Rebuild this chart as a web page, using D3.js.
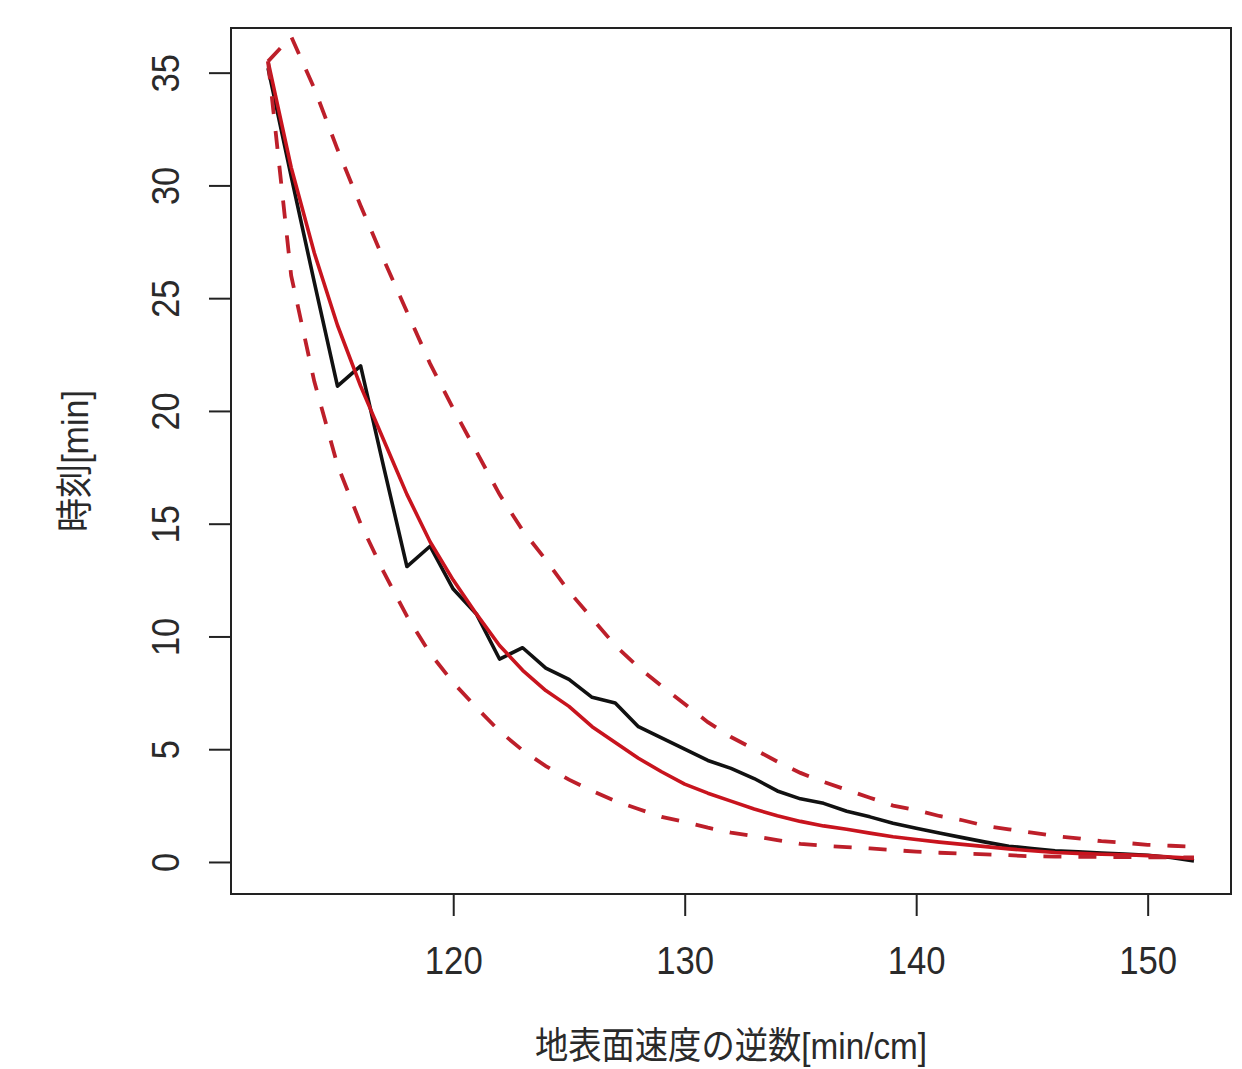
<!DOCTYPE html>
<html>
<head>
<meta charset="utf-8">
<script src="https://cdn.jsdelivr.net/npm/d3@7"></script>
<style>
body { margin: 0; background: #fff; }
</style>
</head>
<body>
<div id="chart"></div>
<script>
// inverse surface velocity [min/cm]
const speedInv = [112, 113, 114, 115, 116, 117, 118, 119, 120, 121, 122, 123, 124, 125, 126, 127, 128, 129, 130, 131,
    132, 133, 134, 135, 136, 137, 138, 139, 140, 141, 142, 143, 144, 145, 146, 147, 148, 149, 150, 151, 152];

// observed time [min]
const observed = [35.2, 30.4, 25.7, 21.1, 22.0, 17.5, 13.1, 14.0, 12.1, 11.0, 9.0, 9.5, 8.6, 8.1, 7.3, 7.05, 6.0, 5.5, 5.0, 4.5,
    4.15, 3.7, 3.15, 2.8, 2.6, 2.25, 2.0, 1.72, 1.5, 1.28, 1.08, 0.88, 0.7, 0.6, 0.5, 0.45, 0.4, 0.35, 0.3, 0.2, 0.05];

// fitted curve
const fitted = [35.5, 30.8, 27.0, 23.8, 21.1, 18.7, 16.3, 14.2, 12.5, 11.0, 9.6, 8.5, 7.6, 6.9, 6.0, 5.3, 4.6, 4.0, 3.45, 3.05,
    2.7, 2.35, 2.05, 1.8, 1.6, 1.45, 1.28, 1.12, 1.0, 0.88, 0.78, 0.68, 0.58, 0.5, 0.42, 0.38, 0.34, 0.32, 0.28, 0.22, 0.16];

// upper / lower bounds (dashed)
const upperBand = [35.5, 36.6, 34.3, 31.6, 29.1, 26.7, 24.4, 22.1, 20.1, 18.2, 16.3, 14.7, 13.4, 12.0, 10.8, 9.6, 8.64, 7.8, 7.0, 6.2,
    5.54, 5.0, 4.45, 3.95, 3.55, 3.2, 2.85, 2.5, 2.3, 2.04, 1.85, 1.6, 1.45, 1.3, 1.15, 1.05, 0.92, 0.85, 0.76, 0.72, 0.68];
const lowerBand = [35.5, 26.0, 21.3, 17.6, 15.0, 12.85, 10.9, 9.25, 7.95, 6.85, 5.8, 4.95, 4.25, 3.65, 3.15, 2.7, 2.35, 2.0, 1.78, 1.52,
    1.3, 1.14, 0.97, 0.8, 0.72, 0.66, 0.6, 0.53, 0.46, 0.41, 0.37, 0.34, 0.3, 0.25, 0.24, 0.23, 0.22, 0.22, 0.21, 0.21, 0.2];

const xTicks = [120, 130, 140, 150];
const yTicks = [0, 5, 10, 15, 20, 25, 30, 35];

function draw() {
    const margin = { top: 28, right: 11, bottom: 175, left: 231 },
        width = 1242 - margin.left - margin.right,
        height = 1069 - margin.top - margin.bottom;

    const svg = d3.select("#chart")
        .append("svg")
        .attr("width", width + margin.left + margin.right)
        .attr("height", height + margin.top + margin.bottom)
        .style("font-family", "'Liberation Sans', Arial, 'Noto Sans CJK JP', sans-serif")
        .append("g")
        .attr("transform", `translate(${margin.left},${margin.top})`);

    // R style 4% padding around the data range
    const x = d3.scaleLinear().domain([110.4, 153.6]).range([0, width]);
    const y = d3.scaleLinear().domain([-1.42, 36.98]).range([height, 0]);

    const xAxis = svg.append("g")
        .attr("transform", `translate(0,${height})`)
        .call(d3.axisBottom(x).tickValues(xTicks).tickSize(22).tickFormat(d3.format("d")));
    xAxis.select(".domain").remove();
    xAxis.selectAll("line").attr("stroke", "#222").attr("stroke-width", 2);
    xAxis.selectAll("text")
        .attr("y", 0).attr("dy", 0)
        .attr("transform", "translate(0,67) scale(0.89,1)")
        .attr("dominant-baseline", "central")
        .style("font-size", "39px")
        .style("font-family", "'Liberation Sans', Arial, sans-serif")
        .attr("fill", "#2a2a2a");

    const yAxis = svg.append("g")
        .call(d3.axisLeft(y).tickValues(yTicks).tickSize(22));
    yAxis.select(".domain").remove();
    yAxis.selectAll("line").attr("stroke", "#222").attr("stroke-width", 2);
    yAxis.selectAll("text")
        .attr("x", 0).attr("dy", 0)
        .attr("text-anchor", "middle")
        .attr("dominant-baseline", "central")
        .attr("transform", "translate(-65,0) rotate(-90) scale(0.88,1)")
        .style("font-size", "39px")
        .style("font-family", "'Liberation Sans', Arial, sans-serif")
        .attr("fill", "#2a2a2a");

    const line = series => d3.line()
        .x((d, i) => x(speedInv[i]))
        .y(d => y(d))(series);

    svg.append("path")
        .attr("d", line(observed))
        .attr("fill", "none")
        .attr("stroke", "#111")
        .attr("stroke-width", 3.6)
        .attr("stroke-linejoin", "round");

    svg.append("path")
        .attr("d", line(fitted))
        .attr("fill", "none")
        .attr("stroke", "#c8141e")
        .attr("stroke-width", 3.6)
        .attr("stroke-linejoin", "round");

    [upperBand, lowerBand].forEach(band => {
        svg.append("path")
            .attr("d", line(band))
            .attr("fill", "none")
            .attr("stroke", "#bd1f2a")
            .attr("stroke-width", 3.8)
            .attr("stroke-dasharray", "18,17");
    });

    // plot box
    svg.append("rect")
        .attr("x", 0).attr("y", 0)
        .attr("width", width).attr("height", height)
        .attr("fill", "none")
        .attr("stroke", "#222")
        .attr("stroke-width", 2);

    svg.append("text")
        .attr("transform", `translate(${width / 2},${height + 152}) scale(0.9,1)`)
        .attr("text-anchor", "middle")
        .attr("dominant-baseline", "central")
        .style("font-size", "37px")
        .attr("fill", "#2a2a2a")
        .text("地表面速度の逆数[min/cm]");

    svg.append("text")
        .attr("transform", `translate(-155,${height / 2}) rotate(-90) scale(0.92,1)`)
        .attr("text-anchor", "middle")
        .attr("dominant-baseline", "central")
        .style("font-size", "37px")
        .attr("fill", "#2a2a2a")
        .text("時刻[min]");
}

window.onload = draw;
</script>
</body>
</html>
